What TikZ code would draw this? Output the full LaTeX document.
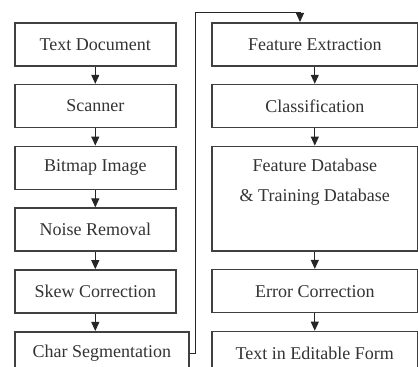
\documentclass[tikz,border=0pt]{standalone}
\usepackage{fontspec}
\setmainfont{Liberation Serif}
\usepackage{tikz}
\usetikzlibrary{arrows.meta, positioning}

\begin{document}
\begin{tikzpicture}[
    x=0.5pt, y=-0.5pt,
    node distance=8.6pt,
    stage/.style={rectangle, draw=black!75, line width=0.8pt, minimum width=80.5pt, minimum height=21.5pt, inner sep=1pt, align=center, font=\fontsize{9}{11}\selectfont, text=black!80},
    wide/.style={stage, minimum width=103pt},
    arrow/.style={-{Triangle[width=4pt,length=4.5pt]}, line width=0.5pt, draw=black!85}
]
\useasboundingbox (0,0) rectangle (418,367);

% left column
\node (doc) [stage, anchor=north west] at (14,22) {Text Document};
\node (scan) [stage, below=of doc] {Scanner};
\node (bmp) [stage, below=of scan] {Bitmap Image};
\node (noise) [stage, below=of bmp] {Noise Removal};
\node (skew) [stage, below=of noise] {Skew Correction};
\node (seg) [stage, minimum width=87pt, below=8.6pt of skew.south west, anchor=north west] {Char Segmentation};

% right column
\node (feat) [wide, anchor=north west] at (211,22) {Feature Extraction};
\node (cls) [wide, below=of feat] {Classification};
\node (db) [wide, below=of cls, minimum height=52.25pt] {Feature Database\\[4pt]\& Training Database\\[4pt]\strut};
\node (err) [wide, below=of db] {Error Correction};
\node (out) [wide, below=of err] {Text in Editable Form};

\coordinate (top) at (300,13);

\draw [arrow] (doc) -- (scan);
\draw [arrow] (scan) -- (bmp);
\draw [arrow] (bmp) -- (noise);
\draw [arrow] (noise) -- (skew);
\draw [arrow] (skew.south) -- (skew.south |- seg.north);
\draw [arrow] (seg.east) -- ++(6,0) |- (top) -- (top |- feat.north);
\draw [arrow] (feat) -- (cls);
\draw [arrow] (cls) -- (db);
\draw [arrow] (db) -- (err);
\draw [arrow] (err) -- (out);

\end{tikzpicture}
\end{document}
